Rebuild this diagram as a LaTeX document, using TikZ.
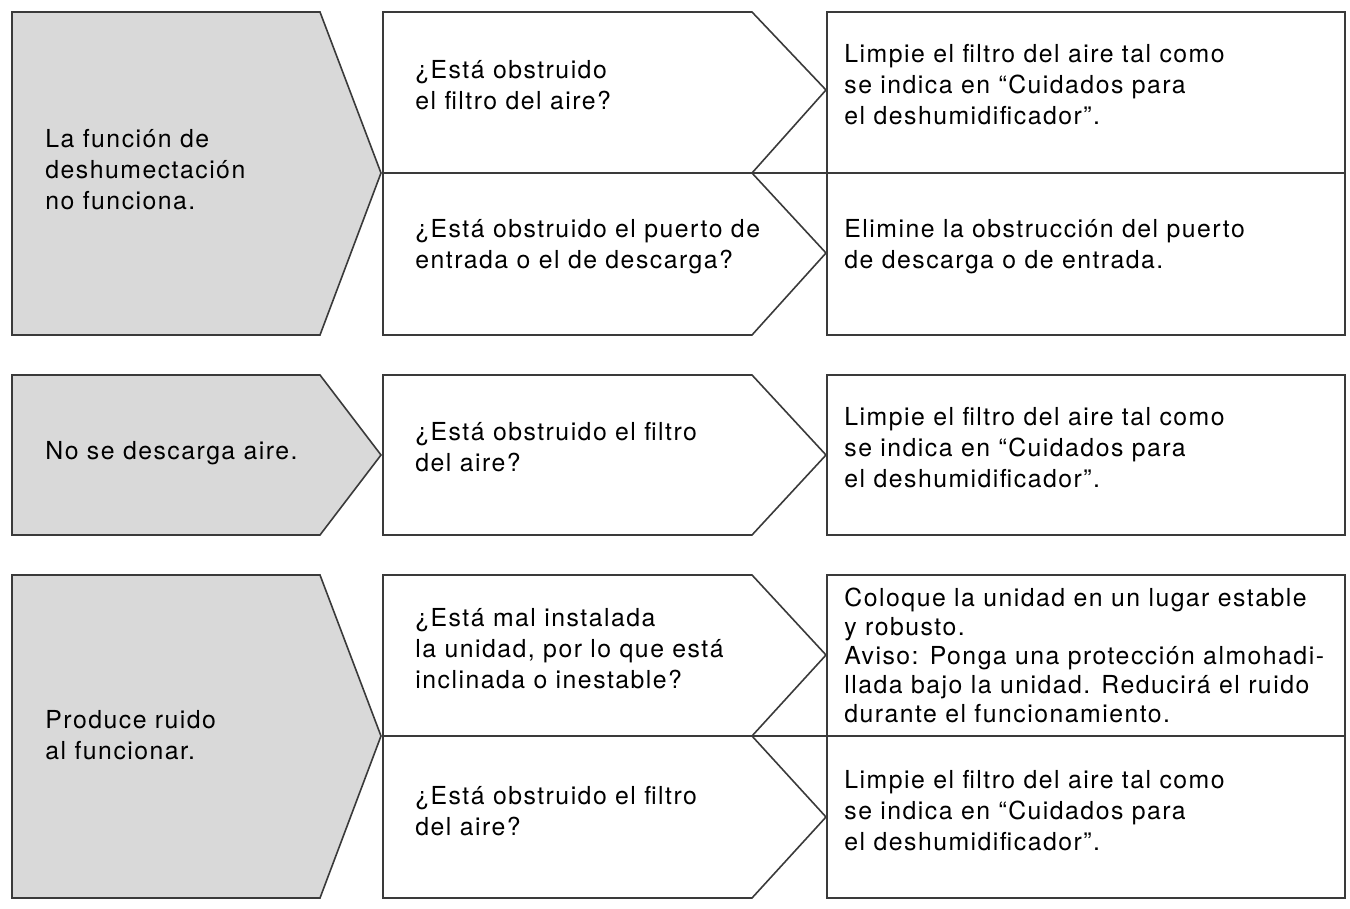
\documentclass[tikz,border=0pt]{standalone}
\usepackage{fontspec}
\setmainfont[LetterSpace=6]{TeX Gyre Heros}
\definecolor{ln}{HTML}{3A3A3A}
\definecolor{gf}{HTML}{D9D9D9}
\tikzset{
 shp/.style={draw=ln,line width=0.8pt,line join=miter},
 gry/.style={shp,fill=gf},
 txt/.style={anchor=west,align=left,inner sep=0pt,font=\fontsize{12.4pt}{15.5pt}\selectfont},
 txs/.style={anchor=west,align=left,inner sep=0pt,font=\fontsize{12.4pt}{14.5pt}\selectfont}
}
\begin{document}
\begin{tikzpicture}[x=0.5pt,y=-0.5pt]
\useasboundingbox (0,0) rectangle (1350,909);
% group 1
\draw[gry] (12,12) -- (320,12) -- (381,173) -- (320,335) -- (12,335) -- cycle;
\draw[shp] (383,12) -- (752,12) -- (826,90) -- (752,173) -- (383,173) -- cycle;
\draw[shp] (383,173) -- (752,173) -- (826,253) -- (752,335) -- (383,335) -- cycle;
\draw[shp] (827,12) rectangle (1345,173);
\draw[shp] (827,173) rectangle (1345,335);
\draw[draw=ln,line width=1.2pt] (383,173) -- (1345,173);
% group 2
\draw[gry] (12,375) -- (320,375) -- (381,455) -- (320,535) -- (12,535) -- cycle;
\draw[shp] (383,375) -- (752,375) -- (826,455) -- (752,535) -- (383,535) -- cycle;
\draw[shp] (827,375) rectangle (1345,535);
% group 3
\draw[gry] (12,575) -- (320,575) -- (381,736) -- (320,898) -- (12,898) -- cycle;
\draw[shp] (383,575) -- (752,575) -- (826,655) -- (752,736) -- (383,736) -- cycle;
\draw[shp] (383,736) -- (752,736) -- (826,817) -- (752,898) -- (383,898) -- cycle;
\draw[shp] (827,575) rectangle (1345,736);
\draw[shp] (827,736) rectangle (1345,898);
\draw[draw=ln,line width=1.2pt] (383,736) -- (1345,736);
% texts
\node[txt] (l1) at (45,170) {La función de\\deshumectación\\no funciona.};
\node[txt] (m1) at (415,85) {¿Está obstruido\\el filtro del aire?};
\node[txt] (m2) at (415,247) {¿Está obstruido el puerto de\\entrada o el de descarga?};
\node[txt] (r1) at (844,85) {Limpie el filtro del aire tal como\\se indica en “Cuidados para\\el deshumidificador”.};
\node[txt] (r2) at (844,247) {Elimine la obstrucción del puerto\\de descarga o de entrada.};
\node[txt] (l2) at (45,453) {No se descarga aire.};
\node[txt] (m3) at (415,447) {¿Está obstruido el filtro\\del aire?};
\node[txt] (r3) at (844,448) {Limpie el filtro del aire tal como\\se indica en “Cuidados para\\el deshumidificador”.};
\node[txt] (l3) at (45,735) {Produce ruido\\al funcionar.};
\node[txt] (m4) at (415,649) {¿Está mal instalada\\la unidad, por lo que está\\inclinada o inestable?};
\node[txs] (r4) at (844,655) {Coloque la unidad en un lugar estable\\y robusto.\\Aviso: Ponga una protección almohadi-\\llada bajo la unidad. Reducirá el ruido\\durante el funcionamiento.};
\node[txt] (m5) at (415,811) {¿Está obstruido el filtro\\del aire?};
\node[txt] (r5) at (844,811) {Limpie el filtro del aire tal como\\se indica en “Cuidados para\\el deshumidificador”.};
\end{tikzpicture}
\end{document}
